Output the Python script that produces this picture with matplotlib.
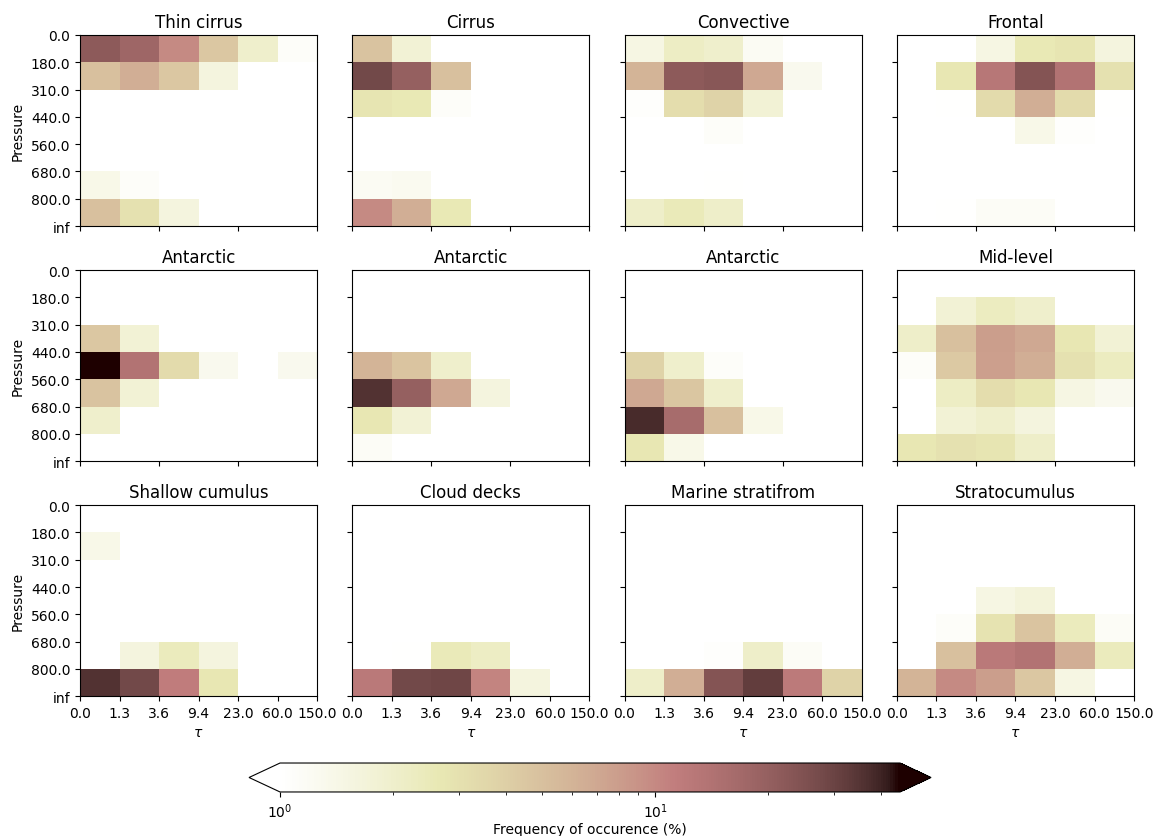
import numpy as np
from matplotlib import pyplot as plt
from matplotlib.colors import LogNorm

# bin edges
tau_edges = ["0.0", "1.3", "3.6", "9.4", "23.0", "60.0", "150.0"]
p_edges = ["0.0", "180.0", "310.0", "440.0", "560.0", "680.0", "800.0", "inf"]

titles = ["Thin cirrus", "Cirrus", "Convective", "Frontal",
          "Antarctic", "Antarctic", "Antarctic", "Mid-level",
          "Shallow cumulus", "Cloud decks", "Marine stratifrom", "Stratocumulus"]

# frequency of occurence (%), rows = pressure bins (top to bottom), cols = tau bins
thin_cirrus = [[22, 18, 10, 4.5, 2.0, 1.1],
               [5, 6.5, 4.5, 1.6, 0, 0],
               [0, 0, 0, 0, 0, 0],
               [0, 0, 0, 0, 0, 0],
               [0, 0, 0, 0, 0, 0],
               [1.4, 1.1, 0, 0, 0, 0],
               [5, 3, 1.6, 0, 0, 0]]
cirrus = [[4.8, 1.8, 0, 0, 0, 0],
          [28, 20, 5, 0, 0, 0],
          [2.8, 2.6, 1.1, 0, 0, 0],
          [0, 0, 0, 0, 0, 0],
          [0, 0, 0, 0, 0, 0],
          [1.2, 1.25, 0, 0, 0, 0],
          [10, 6.5, 2.6, 0, 0, 0]]
convective = [[1.5, 2.2, 2.0, 1.2, 0, 0],
              [6, 22, 23, 7, 1.3, 0],
              [1.05, 3.2, 3.8, 1.8, 0, 0],
              [0, 0, 1.1, 0, 0, 0],
              [0, 0, 0, 0, 0, 0],
              [0, 0, 1.02, 0, 0, 0],
              [2.1, 2.5, 2.1, 0, 0, 0]]
frontal = [[0, 0, 1.5, 2.6, 2.8, 1.6],
           [0, 2.7, 13, 24, 14, 3],
           [0, 1.02, 3.3, 6.5, 3.3, 1.02],
           [0, 0, 0, 1.4, 1.05, 0],
           [0, 0, 0, 0, 0, 0],
           [0, 0, 0, 0, 0, 0],
           [0, 1.02, 1.15, 1.15, 0, 0]]
antarctic_1 = [[0, 0, 0, 0, 0, 0],
               [0, 0, 0, 0, 0, 0],
               [4.5, 1.8, 0, 0, 0, 0],
               [45, 14, 3.3, 1.3, 0, 1.3],
               [4.8, 1.8, 0, 0, 0, 0],
               [2.0, 0, 0, 0, 0, 0],
               [0, 0, 0, 0, 0, 0]]
antarctic_2 = [[0, 0, 0, 0, 0, 0],
               [0, 0, 0, 0, 0, 0],
               [0, 0, 0, 0, 0, 0],
               [6, 4.7, 2.0, 0, 0, 0],
               [36, 20, 7, 1.6, 0, 0],
               [2.7, 1.8, 0, 0, 0, 0],
               [1.15, 0, 0, 0, 0, 0]]
antarctic_3 = [[0, 0, 0, 0, 0, 0],
               [0, 0, 0, 0, 0, 0],
               [0, 0, 0, 0, 0, 0],
               [3.8, 2.0, 1.1, 0, 0, 0],
               [7, 4.6, 2.0, 0, 0, 0],
               [38, 16, 5, 1.4, 0, 1.01],
               [2.7, 1.4, 0, 0, 0, 0]]
mid_level = [[0, 0, 0, 0, 0, 0],
             [0, 1.8, 2.3, 2.0, 0, 0],
             [2.1, 5, 8, 7, 2.7, 1.8],
             [1.1, 4.4, 7.8, 6.5, 3, 2.3],
             [0, 2.2, 3.2, 2.7, 1.5, 1.3],
             [0, 1.8, 2.0, 1.6, 0, 0],
             [2.7, 3.0, 2.8, 2.1, 0, 0]]
shallow_cu = [[0, 0, 0, 0, 0, 0],
              [1.4, 0, 0, 0, 0, 0],
              [0, 0, 0, 0, 0, 0],
              [0, 0, 0, 0, 0, 0],
              [0, 0, 0, 0, 0, 0],
              [0, 1.6, 2.4, 1.6, 0, 0],
              [36, 28, 11.5, 2.7, 0, 0]]
cloud_decks = [[0, 0, 0, 0, 0, 0],
               [0, 0, 0, 0, 0, 0],
               [0, 0, 0, 0, 0, 0],
               [0, 0, 0, 0, 0, 0],
               [0, 0, 0, 0, 0, 0],
               [0, 1.02, 2.5, 2.2, 0, 0],
               [12.5, 28, 29, 10.5, 1.6, 0]]
marine_sf = [[0, 0, 0, 0, 0, 0],
             [0, 0, 0, 0, 0, 0],
             [0, 0, 0, 0, 0, 0],
             [0, 0, 0, 1.01, 0, 0],
             [0, 0, 0, 0, 0, 0],
             [0, 0, 1.05, 2.1, 1.15, 0],
             [2.1, 6.5, 24, 32, 12, 3.8]]
stratocu = [[0, 0, 0, 0, 0, 0],
            [0, 0, 0, 0, 0, 0],
            [0, 0, 0, 0, 0, 0],
            [0, 0, 1.5, 1.7, 0, 0],
            [0, 1.1, 2.9, 4.7, 2.4, 1.15],
            [0, 5, 12.5, 14, 6.5, 2.4],
            [6, 10, 8, 4.5, 1.5, 0]]

hists = [thin_cirrus, cirrus, convective, frontal,
         antarctic_1, antarctic_2, antarctic_3, mid_level,
         shallow_cu, cloud_decks, marine_sf, stratocu]

fig, axes = plt.subplots(3, 4, figsize=(11.54, 8.37), dpi=100)
fig.subplots_adjust(left=0.0693, right=0.9827, top=0.957, bottom=0.167,
                    wspace=0.148, hspace=0.23)

nx = len(tau_edges) - 1
ny = len(p_edges) - 1
norm = LogNorm(vmin=1, vmax=45)
for k, ax in enumerate(axes.flat):
    # flip so that y=0 is the bottom (inf) bin
    h = np.array(hists[k], dtype=float)[::-1]
    im = ax.pcolormesh(np.arange(nx + 1), np.arange(ny + 1), h,
                       cmap="pink_r", norm=norm)
    ax.set_title(titles[k])
    ax.set_xlim(0, nx)
    ax.set_ylim(0, ny)
    if k >= 8:
        ax.set_xticks(np.arange(nx + 1))
        ax.set_xticklabels(tau_edges)
        ax.set_xlabel(r"$\tau$")
    else:
        ax.set_xticks(np.arange(0, nx + 1, 2))
        ax.set_xticklabels([])
    if k % 4 == 0:
        ax.set_yticks(np.arange(ny + 1))
        ax.set_yticklabels(p_edges[::-1])
        ax.set_ylabel("Pressure")
    else:
        ax.set_yticks(np.arange(0, ny + 1, 2))
        ax.set_yticklabels([])

cax = fig.add_axes([0.2158, 0.0526, 0.591, 0.0346])
cb = fig.colorbar(im, cax=cax, orientation="horizontal", extend="both")
cb.set_label("Frequency of occurence (%)", labelpad=1)

plt.savefig("out.png", dpi=100)
